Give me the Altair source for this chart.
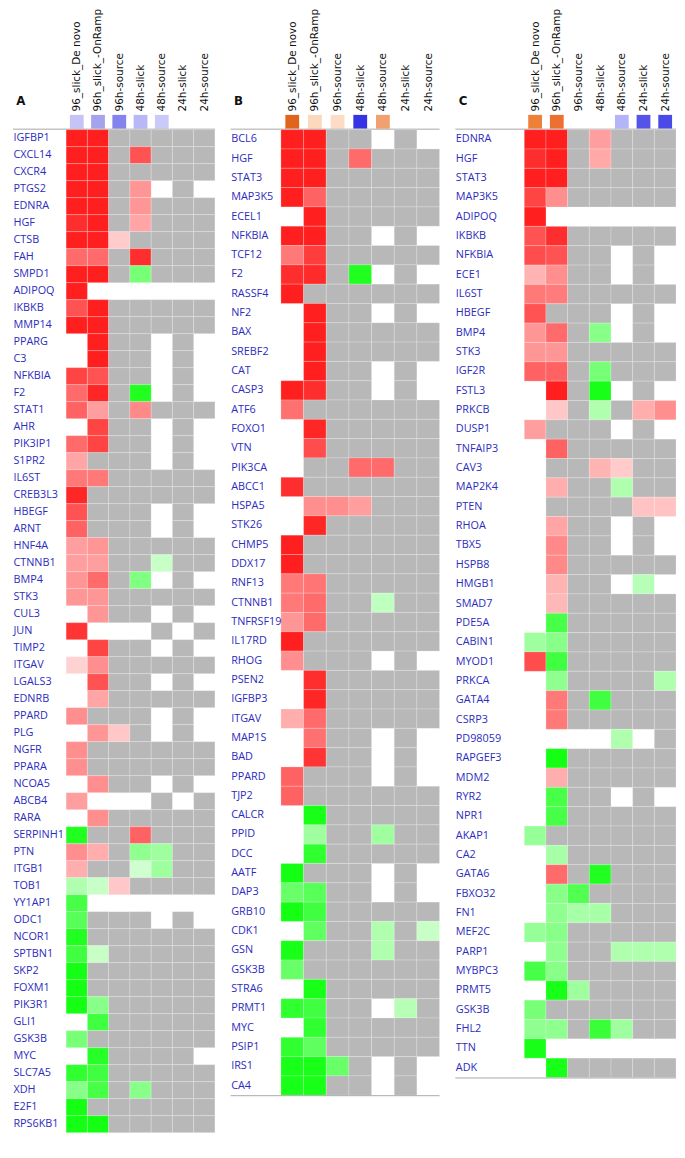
import altair as alt
import pandas as pd

N = None
columns = ["96_slick_De novo", "96h_slick_-OnRamp", "96h-source", "48h-slick",
           "48h-source", "24h-slick", "24h-source"]

genes_A = ["IGFBP1", "CXCL14", "CXCR4", "PTGS2", "EDNRA", "HGF", "CTSB", "FAH", "SMPD1", "ADIPOQ",
           "IKBKB", "MMP14", "PPARG", "C3", "NFKBIA", "F2", "STAT1", "AHR", "PIK3IP1", "S1PR2",
           "IL6ST", "CREB3L3", "HBEGF", "ARNT", "HNF4A", "CTNNB1", "BMP4", "STK3", "CUL3", "JUN",
           "TIMP2", "ITGAV", "LGALS3", "EDNRB", "PPARD", "PLG", "NGFR", "PPARA", "NCOA5", "ABCB4",
           "RARA", "SERPINH1", "PTN", "ITGB1", "TOB1", "YY1AP1", "ODC1", "NCOR1", "SPTBN1", "SKP2",
           "FOXM1", "PIK3R1", "GLI1", "GSK3B", "MYC", "SLC7A5", "XDH", "E2F1", "RPS6KB1"]
values_A = [
    [3, 3, 0, 0, 0, 0, 0], [3, 3, 0, 2.3, 0, 0, 0], [3, 3, 0, 0, 0, 0, 0], [3, 3, 0, 1.4, N, 0, N],
    [3, 3, 0, 1.4, 0, 0, 0], [2.8, 3, 0, 1.2, 0, 0, 0], [3, 3, 0.7, 0, 0, 0, 0], [2.0, 2.0, 0, 2.8, 0, 0, 0],
    [3, 3, 0, -1.7, 0, 0, 0], [3, N, N, N, N, N, N], [2.3, 3, 0, 0, 0, 0, 0], [3, 3, 0, 0, 0, 0, 0],
    [N, 3, 0, 0, N, 0, N], [N, 3, 0, 0, N, 0, N], [2.5, 2.3, 0, 0, N, 0, N], [2.0, 2.9, 0, -2.8, N, 0, N],
    [2.1, 1.3, 0, 1.6, 0, 0, 0], [N, 2.5, 0, 0, N, 0, N], [2.0, 2.5, 0, 0, N, 0, N], [1.2, 0, 0, 0, N, 0, N],
    [1.8, 1.8, 0, 0, 0, 0, 0], [2.9, 0, 0, 0, 0, 0, 0], [2.3, 0, 0, 0, N, 0, N], [2.1, 0, 0, 0, N, 0, N],
    [1.3, 1.4, 0, 0, 0, 0, 0], [1.3, 1.3, 0, 0, -0.7, 0, 0], [1.4, 2.0, 0, -1.6, N, 0, N], [1.4, 1.4, 0, 0, 0, 0, 0],
    [N, 1.4, 0, 0, N, 0, N], [2.7, N, N, N, 0, N, 0], [N, 2.5, 0, 0, N, 0, N], [0.6, 1.5, 0, 0, 0, 0, 0],
    [N, 2.3, 0, 0, N, 0, N], [N, 1.2, 0, 0, 0, 0, 0], [1.5, 0, 0, 0, N, 0, N], [N, 1.4, 0.75, 0, N, 0, N],
    [1.5, 0, 0, 0, 0, 0, 0], [1.5, 0, 0, 0, 0, 0, 0], [N, 1.5, 0, 0, N, 0, N], [1.3, N, N, N, 0, N, 0],
    [N, 1.5, 0, 0, 0, 0, 0], [-2.8, 0, 0, 2.1, 0, 0, 0], [1.5, 1.1, 0, -1.4, -1.2, 0, 0], [1.1, 0, 0, -0.6, -1.2, 0, 0],
    [-1.0, -0.7, 0.75, 0, 0, 0, 0], [-2.3, N, N, N, N, N, N], [-2.1, 0, 0, 0, N, 0, N], [-2.8, 0, 0, 0, 0, 0, 0],
    [-2.4, -0.7, 0, 0, 0, 0, 0], [-2.95, 0, 0, 0, 0, 0, 0], [-2.95, 0, 0, 0, 0, 0, 0], [-2.95, -1.5, 0, 0, 0, 0, 0],
    [N, -2.4, 0, 0, 0, 0, 0], [-1.7, 0, 0, 0, 0, 0, 0], [N, -2.7, 0, 0, 0, 0, N], [-2.6, -2.4, 0, 0, 0, 0, 0],
    [-1.5, -2.3, 0, -1.5, 0, 0, 0], [-2.95, 0, 0, 0, 0, 0, 0], [-2.95, -2.95, 0, 0, 0, 0, 0],
]
header_A = ["#c4c4f6", "#a4a4ee", "#8484ee", "#b8b8f6", "#cacaf8", N, N]

genes_B = ["BCL6", "HGF", "STAT3", "MAP3K5", "ECEL1", "NFKBIA", "TCF12", "F2", "RASSF4", "NF2",
           "BAX", "SREBF2", "CAT", "CASP3", "ATF6", "FOXO1", "VTN", "PIK3CA", "ABCC1", "HSPA5",
           "STK26", "CHMP5", "DDX17", "RNF13", "CTNNB1", "TNFRSF19", "IL17RD", "RHOG", "PSEN2", "IGFBP3",
           "ITGAV", "MAP1S", "BAD", "PPARD", "TJP2", "CALCR", "PPID", "DCC", "AATF", "DAP3",
           "GRB10", "CDK1", "GSN", "GSK3B", "STRA6", "PRMT1", "MYC", "PSIP1", "IRS1", "CA4"]
values_B = [
    [3, 3, 0, 0, N, 0, N], [3, 3, 0, 2.0, 0, 0, 0], [3, 3, 0, 0, 0, 0, 0], [3, 2.1, 0, 0, 0, 0, 0],
    [N, 3, 0, 0, 0, 0, 0], [3, 3, 0, 0, N, 0, N], [1.8, 2.6, 0, 0, 0, 0, 0], [2.8, 2.85, 0, -2.8, N, 0, N],
    [3, 0, 0, 0, 0, 0, 0], [N, 3, 0, 0, N, 0, N], [N, 3, 0, 0, 0, 0, 0], [N, 3, 0, 0, 0, 0, 0],
    [N, 3, 0, 0, N, 0, N], [3, 2.8, 0, 0, N, 0, N], [1.9, 0, 0, 0, 0, 0, 0], [N, 2.9, 0, 0, 0, 0, 0],
    [N, 2.4, 0, 0, 0, 0, 0], [N, 0, 0, 2.0, 2.0, 0, 0], [2.8, 0, 0, 0, 0, 0, 0], [N, 1.5, 1.5, 1.3, 0, 0, 0],
    [N, 2.9, 0, 0, 0, 0, 0], [3, 0, 0, 0, 0, 0, 0], [3, 0, 0, 0, 0, 0, 0], [1.8, 1.85, 0, 0, 0, 0, 0],
    [1.8, 2.0, 0, 0, -0.8, 0, 0], [1.4, 2.0, 0, 0, 0, 0, 0], [3, 0, 0, 0, 0, 0, 0], [1.5, 0, 0, 0, N, 0, N],
    [N, 2.8, 0, 0, 0, 0, 0], [N, 2.9, 0, 0, 0, 0, 0], [1.1, 2.0, 0, 0, 0, 0, 0], [N, 1.9, 0, 0, N, 0, N],
    [N, 2.7, 0, 0, N, 0, N], [2.1, 0, 0, 0, N, 0, N], [2.1, 0, 0, 0, 0, 0, 0], [N, -2.9, 0, 0, 0, 0, 0],
    [N, -1.2, 0, 0, -1.2, 0, 0], [N, -2.6, 0, 0, 0, 0, 0], [-2.95, 0, 0, 0, N, 0, N], [-1.9, -2.1, 0, 0, N, 0, N],
    [-2.95, -2.4, 0, 0, 0, 0, 0], [N, -2.0, 0, 0, -1.0, 0, -0.7], [-2.9, 0, 0, 0, -1.0, 0, 0], [-1.9, 0, 0, 0, 0, 0, 0],
    [N, -2.9, 0, 0, 0, 0, 0], [-2.6, -2.4, 0, 0, N, -0.9, 0], [N, -2.6, 0, 0, 0, 0, 0], [-2.6, -2.0, 0, 0, 0, 0, 0],
    [-2.9, -2.9, -1.9, 0, N, 0, N], [-2.9, -2.9, 0, 0, N, 0, N],
]
header_B = ["#e0641e", "#fcd8bc", "#fcdcc4", "#3434e4", "#f2a070", N, N]

genes_C = ["EDNRA", "HGF", "STAT3", "MAP3K5", "ADIPOQ", "IKBKB", "NFKBIA", "ECE1", "IL6ST", "HBEGF",
           "BMP4", "STK3", "IGF2R", "FSTL3", "PRKCB", "DUSP1", "TNFAIP3", "CAV3", "MAP2K4", "PTEN",
           "RHOA", "TBX5", "HSPB8", "HMGB1", "SMAD7", "PDE5A", "CABIN1", "MYOD1", "PRKCA", "GATA4",
           "CSRP3", "PD98059", "RAPGEF3", "MDM2", "RYR2", "NPR1", "AKAP1", "CA2", "GATA6", "FBXO32",
           "FN1", "MEF2C", "PARP1", "MYBPC3", "PRMT5", "GSK3B", "FHL2", "TTN", "ADK"]
values_C = [
    [3, 3, 0, 1.3, 0, 0, 0], [2.8, 3, 0, 1.15, 0, 0, 0], [3, 3, 0, 0, 0, 0, 0], [2.5, 1.5, 0, 0, 0, 0, 0],
    [3, N, N, N, N, N, N], [2.3, 2.8, 0, 0, 0, 0, 0], [2.4, 2.3, 0, 0, N, 0, N], [1.0, 1.5, 0, 0, N, 0, N],
    [1.8, 1.75, 0, 0, 0, 0, 0], [2.3, 0, 0, 0, N, 0, N], [1.4, 2.0, 0, -1.5, N, 0, N], [1.4, 1.4, 0, 0, 0, 0, 0],
    [2.1, 2.1, 0, -1.7, 0, 0, 0], [N, 3, 0, -2.9, N, 0, N], [N, 0.75, 0, -1.0, 0, 1.1, 1.5], [1.3, 0, 0, 0, N, 0, N],
    [N, 2.1, 0, 0, 0, 0, 0], [N, 0, 0, 1.0, 0.7, 0, 0], [N, 1.1, 0, 0, -1.0, 0, 0], [N, 0, 0, 0, 0, 0.8, 0.8],
    [N, 1.2, 0, 0, N, 0, N], [N, 1.6, 0, 0, N, 0, N], [N, 1.6, 0, 0, 0, 0, 0], [N, 1.0, 0, 0, N, -0.9, N],
    [N, 0.95, 0, 0, 0, 0, 0], [N, -2.3, 0, 0, 0, 0, 0], [-1.2, -1.5, 0, 0, 0, 0, 0], [2.4, -2.4, 0, 0, 0, 0, 0],
    [N, -1.4, 0, 0, 0, 0, -1.0], [N, 1.8, 0, -2.4, 0, 0, 0], [N, 1.8, 0, 0, 0, 0, 0], [N, N, N, N, -1.0, N, 0],
    [N, -2.95, 0, 0, 0, 0, 0], [N, 1.1, 0, 0, 0, 0, 0], [N, -2.3, 0, 0, N, 0, N], [N, -2.3, 0, 0, 0, 0, 0],
    [-1.3, 0, 0, 0, 0, 0, 0], [N, -1.1, 0, 0, 0, 0, 0], [N, 2.0, 0, -2.8, 0, 0, 0], [N, -1.5, -2.2, 0, 0, 0, 0],
    [N, -1.4, -1.1, -1.1, 0, 0, 0], [-1.3, -1.5, 0, 0, 0, 0, 0], [N, -1.4, 0, 0, -1.0, -1.0, -1.0], [-2.3, -1.5, 0, 0, 0, 0, 0],
    [N, -2.9, -1.2, 0, 0, 0, 0], [-1.7, 0, 0, 0, 0, 0, 0], [-1.4, -1.4, 0, -2.5, -1.2, 0, 0], [-2.9, N, N, N, N, N, N],
    [N, -2.9, 0, 0, 0, 0, 0],
]
header_C = ["#ee8038", "#ec7030", N, N, "#b4b4f8", "#5454e8", "#4a4ae8"]

GREY = "#b8b8b8"
LINE = "#a8a8a8"


def panel(letter, genes, values, header, width, height, label_pad, bottom_line):
    rows = []
    for g, vals in zip(genes, values):
        for c, v in zip(columns, vals):
            if v is not None:
                rows.append({"gene": g, "col": c, "v": v})
    df = pd.DataFrame(rows)

    xs = alt.X("col:N", sort=columns, axis=None,
               scale=alt.Scale(domain=columns, paddingInner=0, paddingOuter=0))
    ys = alt.Y("gene:N", sort=genes,
               scale=alt.Scale(domain=genes, paddingInner=0, paddingOuter=0),
               axis=alt.Axis(title=letter, titleAngle=0, titleAlign="left",
                             titleBaseline="alphabetic", titleX=-label_pad + 3, titleY=-26,
                             titleFont="DejaVu Sans", titleFontSize=12,
                             titleFontWeight="bold", titleColor="#111111",
                             labelAlign="left", labelPadding=label_pad, labelFont="Open Sans",
                             labelFontSize=11, labelColor="#2c2cbe", ticks=False,
                             domain=False, labelLimit=200))
    rect = alt.Chart(df).mark_rect(stroke="white", strokeWidth=0.6, strokeOpacity=0.35).encode(
        x=xs, y=ys,
        color=alt.condition(
            "datum.v === 0", alt.value(GREY),
            alt.Color("v:Q", legend=None,
                      scale=alt.Scale(domain=[-3, 0, 3], interpolate="rgb",
                                      range=["#10ff10", "#ffffff", "#ff1f1f"])))
    )
    line_df = pd.DataFrame({"k": [0]})
    top = alt.Chart(line_df).mark_rule(color=LINE, strokeWidth=1).encode(
        x=alt.value(-label_pad), x2=alt.value(width), y=alt.value(-0.5))
    layers = [top, rect]
    if bottom_line:
        bot = alt.Chart(line_df).mark_rule(color=LINE, strokeWidth=1).encode(
            x=alt.value(-label_pad), x2=alt.value(width), y=alt.value(height + 0.5))
        layers.append(bot)
    heat = alt.layer(*layers).properties(width=width, height=height)

    hdf = pd.DataFrame({"col": columns, "color": header}).dropna()
    head = alt.Chart(hdf).mark_square(size=196, opacity=1).encode(
        x=alt.X("col:N", sort=columns,
                scale=alt.Scale(type="point", domain=columns, padding=0.5),
                axis=alt.Axis(orient="top", labelAngle=270, labelAlign="left",
                              labelBaseline="middle", labelPadding=4, ticks=False,
                              domain=False, title=None, labelFont="DejaVu Sans",
                              labelFontSize=10.6, labelColor="#111111", labelLimit=200)),
        fill=alt.Fill("color:N", scale=None)
    ).properties(width=width, height=14)

    return alt.vconcat(head, heat, spacing=1, bounds="flush").resolve_scale(
        color="independent", fill="independent")


pA = panel("A", genes_A, values_A, header_A, 151, 1018, 54, False)
pB = panel("B", genes_B, values_B, header_B, 161, 980, 51, True)
pC = panel("C", genes_C, values_C, header_C, 154, 962, 70, True)

chart = alt.hconcat(pA, pB, pC, spacing=14).resolve_scale(
    color="independent", fill="independent"
).properties(
    padding={"left": 4, "top": -8, "right": 0, "bottom": 0}
).configure_view(stroke=None)

chart.save("out.html", embed_options={"renderer": "svg", "actions": False})
